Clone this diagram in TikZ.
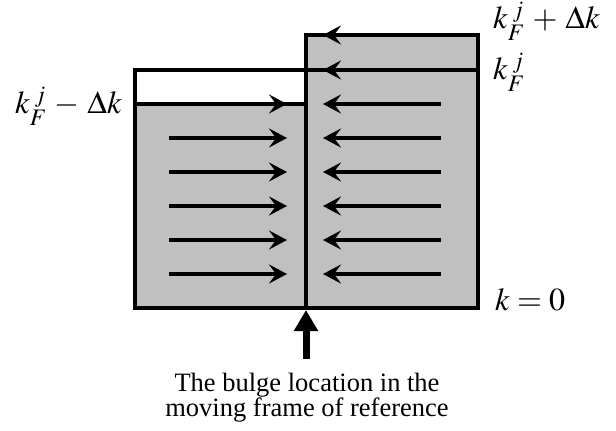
\documentclass[tikz,border=0pt]{standalone}
\usepackage{mathptmx}
\usepackage{fontspec}
\setmainfont{Liberation Serif}
\usetikzlibrary{arrows.meta}
\definecolor{boxgray}{RGB}{192,192,192}
\newcommand\kFj{k\rlap{\raisebox{-12pt}{$\scriptstyle F$}}\hspace{4.5pt}\raisebox{10.5pt}{$\scriptstyle j$}\hspace{5pt}}
\begin{document}
\begin{tikzpicture}[x=1pt,y=-1pt,
  boxline/.style={line width=4pt,line join=miter},
  flow/.style={line width=3.4pt,-{Stealth[length=18pt,width=19pt,inset=7pt]}},
  mlabel/.style={inner sep=0pt,font=\fontsize{32}{32}\selectfont},
  caption/.style={inner sep=0pt,font=\fontsize{26.5}{25}\selectfont}]
\useasboundingbox (0,0) rectangle (616,431);
% corners
\coordinate (LTop) at (135,70);
\coordinate (LFill) at (135,104);
\coordinate (MFill) at (306,104);
\coordinate (LBot) at (135,308);
\coordinate (MBot) at (306,308);
\coordinate (RTop) at (478,35);
\coordinate (MTop) at (306,35);
\coordinate (RMid) at (478,70);
\coordinate (RBot) at (478,308);
% fills
\fill[boxgray] (LFill) rectangle (MBot);
\fill[boxgray] (MTop) rectangle (RBot);
% outlines
\draw[boxline] (LTop) rectangle (MBot);
\draw[boxline] (MTop) rectangle (RBot);
\draw[boxline] (LTop) -- (RMid);
\draw[boxline] (LFill) -- (MFill);
% flow arrows
\foreach \y in {104,138,172,206,240,274}{
  \draw[flow] (169,\y) -- (287,\y);
}
\foreach \y in {35,70,104,138,172,206,240,274}{
  \draw[flow] (441,\y) -- (323,\y);
}
% labels
\node[mlabel,anchor=base west] (kfp) at (493,28) {$\kFj+\mkern2mu\Delta k$};
\node[mlabel,anchor=base west] (kf) at (493,79) {$\kFj$};
\node[mlabel,anchor=base west] (kfm) at (15,113) {$\kFj-\mkern2mu\Delta k$};
\node[mlabel,anchor=base west] (k0) at (495,310) {$k=0$};
% caption and bulge arrow
\node[caption,anchor=base] (cap1) at (307,391) {The bulge location in the};
\node[caption,anchor=base] (cap2) at (307,416) {moving frame of reference};
\coordinate (tail) at (306,359);
\coordinate (bulge) at (306,310);
\draw[line width=7pt,-{Triangle[length=21pt,width=23pt]}] (tail) -- (bulge);
\end{tikzpicture}
\end{document}
